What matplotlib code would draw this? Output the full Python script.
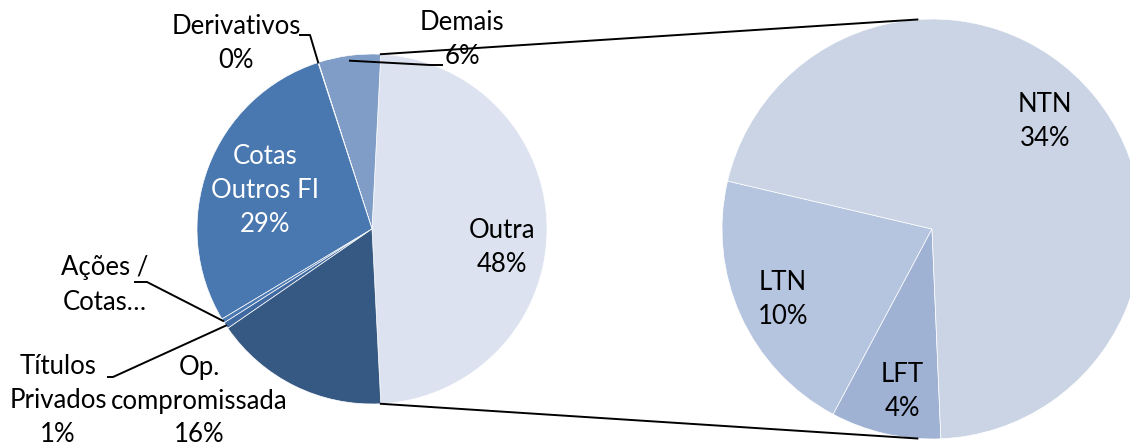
import numpy as np
import matplotlib
matplotlib.use("Agg")
import matplotlib.pyplot as plt

# composicao da carteira (%), pizza principal
main_labels = ["Outra", "Demais", "Derivativos", "Cotas\nOutros FI", "Ações /\nCotas…",
               "Títulos\nPrivados", "Op.\ncompromissada"]
main_values = [48.4, 5.75, 0.05, 28.6, 0.4, 0.6, 16.2]
main_colors = ["#DCE2EF", "#7F9DC7", "#5E86BC", "#4977AF", "#4C79B1", "#3F69A0", "#365983"]

# abertura da fatia "Outra"
sub_labels = ["LTN", "LFT", "NTN"]
sub_values = [10.1, 4.1, 34.2]
sub_colors = ["#B5C4DF", "#9FB2D4", "#CAD4E5"]

W, H = 1130, 446
fig = plt.figure(figsize=(W / 100, H / 100), dpi=100)
ax = fig.add_axes([0, 0, 1, 1])

c1, r1 = (372, H - 229), 175
c2, r2 = (932, H - 229), 210

start1 = -main_values[0] * 360 / 200
w1, _ = ax.pie(main_values, colors=main_colors, startangle=start1, center=c1, radius=r1,
               wedgeprops=dict(edgecolor="white", linewidth=0.5))
w2, _ = ax.pie(sub_values, colors=sub_colors, startangle=166.8, center=c2, radius=r2,
               wedgeprops=dict(edgecolor="white", linewidth=0.5))
ax.set_xlim(0, W)
ax.set_ylim(0, H)
ax.set_aspect("equal")
ax.axis("off")

font = dict(family=["Lato", "DejaVu Sans"], fontsize=18.5, ha="center", va="center",
            linespacing=1.45)

def pct(v, tot):
    return f"{round(v / tot * 100):.0f}%"

tot = sum(main_values)

def pt(c, r, ang):
    a = np.deg2rad(ang)
    return c[0] + r * np.cos(a), c[1] + r * np.sin(a)

# linhas de ligacao entre as pizzas
o = w1[0]
for ang, ang2 in [(o.theta2, 94), (o.theta1, -94)]:
    x0, y0 = pt(c1, r1, ang)
    x1, y1 = pt(c2, r2, ang2)
    ax.plot([x0, x1], [y0, y1], color="black", lw=1.4)

# rotulos dentro das fatias (posicao em pixels)
inside = {0: (502, 247), 3: (265, 190), 6: (199, 401)}
for i, (x, y) in inside.items():
    col = "white" if i == 3 else "black"
    ax.text(x, H - y, main_labels[i] + "\n" + pct(main_values[i], tot), color=col, **font)

# rotulos externos com linha guia
outside = {
    1: ((462, 40), [(442, 65), (430, 65)]),
    2: ((236, 43), [(300, 35), (310, 35)]),
    4: ((105, 285), [(135, 282), (147, 282)]),
    5: ((58, 400), [(108, 377), (113, 377)]),
}
for i, ((x, y), guide) in outside.items():
    txt = main_labels[i]
    if i != 4:
        txt += "\n" + pct(main_values[i], tot)
    ax.text(x, H - y, txt, color="black", **font)
    w = w1[i]
    mid = (w.theta1 + w.theta2) / 2
    rr = r1 * 0.97 if i == 1 else r1
    ex, ey = pt(c1, rr, mid)
    xs = [p[0] for p in guide] + [ex]
    ys = [H - p[1] for p in guide] + [ey]
    ax.plot(xs, ys, color="black", lw=1.4)

sub_pos = [(783, 299), (902, 392), (1045, 121)]
for lab, v, (x, y) in zip(sub_labels, sub_values, sub_pos):
    ax.text(x, H - y, lab + "\n" + pct(v, tot), color="black", **font)

fig.savefig("out.png", dpi=100)
